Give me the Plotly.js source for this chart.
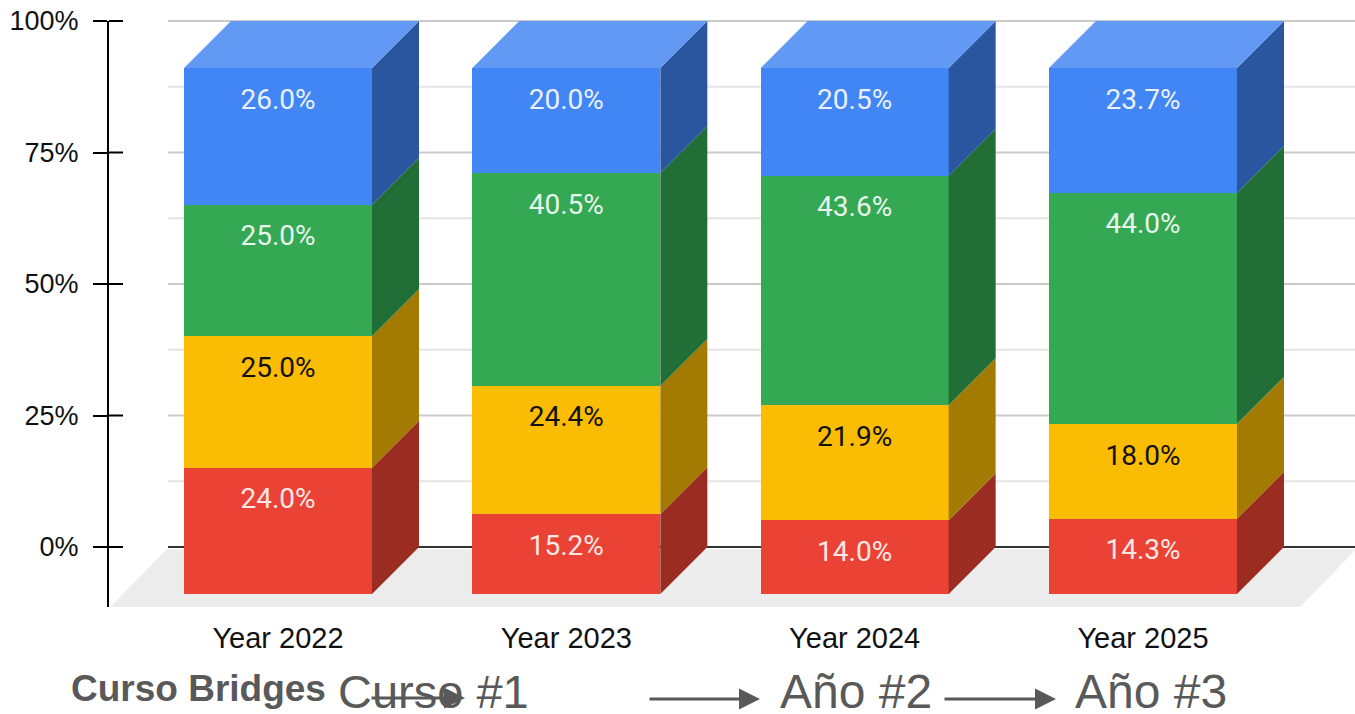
<!DOCTYPE html>
<html>
<head>
<meta charset="utf-8">
<script src="https://cdn.plot.ly/plotly-3.0.1.min.js"></script>
<style>html,body{margin:0;padding:0;background:#fff;overflow:hidden}#chart{width:1355px;height:714px}</style>
</head>
<body>
<div id="chart"></div>
<script>
// ---- data ----
const categories = ['Year 2022', 'Year 2023', 'Year 2024', 'Year 2025'];
const redValues = [24.0, 15.2, 14.0, 14.3];
const yellowValues = [25.0, 24.4, 21.9, 18.0];
const greenValues = [25.0, 40.5, 43.6, 44.0];
const blueValues = [26.0, 20.0, 20.5, 23.7];
const yTicks = [0, 25, 50, 75, 100];
const yMinor = [12.5, 37.5, 62.5, 87.5];
const yTickText = ['0%', '25%', '50%', '75%', '100%'];

// ---- styling ----
const W = 1355, H = 714, mL = 109, mT = 21, mB = 107;
const plotW = W - mL, plotH = H - mT - mB;
const PX_PER_CAT = 288.33, PX_PER_PCT = 5.26, DEPTH_PX = 47;
const depthX = DEPTH_PX / PX_PER_CAT, depthY = DEPTH_PX / PX_PER_PCT;
const barW = 188 / PX_PER_CAT;
const xIdx = px => (px - 278) / PX_PER_CAT;
const xRange = [xIdx(mL), xIdx(W)];
const yBackRange = [-(607 - 547) / PX_PER_PCT, 100];
const yFrontRange = [-(607 - 594) / PX_PER_PCT, 100 + depthY];
const xs = categories.map((_, i) => i);

const series = [
  {name: 'Red', v: redValues, front: '#ea4335', side: '#9b2c22', text: '#fce8e6'},
  {name: 'Yellow', v: yellowValues, front: '#fbbc04', side: '#a47b02', text: '#111111'},
  {name: 'Green', v: greenValues, front: '#34a853', side: '#216f37', text: '#e8f5ec'},
  {name: 'Blue', v: blueValues, front: '#4285f4', side: '#2a569f', text: '#eaf1fe'}
];
const totals = xs.map(i => series.reduce((s, t) => s + t.v[i], 0));
const LABEL_OFFSET = 33.5 / PX_PER_PCT;

const traces = [];
// front faces
series.forEach(s => traces.push({
  type: 'bar', name: s.name, x: xs, y: s.v, width: barW,
  marker: {color: s.front, line: {width: 0}}, xaxis: 'x', yaxis: 'y2', showlegend: false, hoverinfo: 'skip'
}));
// side faces
const running = xs.map(() => 0);
const labelTraces = [];
series.forEach(s => {
  const px = [], py = [], tops = [];
  xs.forEach(i => {
    const lo = running[i], hi = lo + s.v[i] / totals[i] * 100;
    running[i] = hi; tops.push(hi);
    const e = i + barW / 2;
    px.push(e, e + depthX, e + depthX, e, e, null);
    py.push(lo, lo + depthY, hi + depthY, hi, lo, null);
  });
  traces.push({
    type: 'scatter', mode: 'lines', x: px, y: py, fill: 'toself', fillcolor: s.side,
    line: {width: 0, color: s.side}, xaxis: 'x', yaxis: 'y2', showlegend: false, hoverinfo: 'skip'
  });
  labelTraces.push({
    type: 'scatter', mode: 'text', x: xs, y: tops.map(t => t - LABEL_OFFSET),
    text: s.v.map(v => v.toFixed(1) + '%'), textposition: 'middle center',
    textfont: {family: 'Roboto, sans-serif', size: 28, color: s.text},
    xaxis: 'x', yaxis: 'y2', showlegend: false, hoverinfo: 'skip', cliponaxis: false
  });
});
// top face
const topX = [], topY = [];
xs.forEach(i => {
  const a = i - barW / 2, b = i + barW / 2;
  topX.push(a, b, b + depthX, a + depthX, a, null);
  topY.push(100, 100, 100 + depthY, 100 + depthY, 100, null);
});
traces.push({
  type: 'scatter', mode: 'lines', x: topX, y: topY, fill: 'toself', fillcolor: '#6199f5',
  line: {width: 0, color: '#6199f5'}, xaxis: 'x', yaxis: 'y2', showlegend: false, hoverinfo: 'skip'
});
labelTraces.forEach(t => traces.push(t));

// shapes: grid, floor, inner half of ticks
const gridStart = (168 - mL) / plotW;
const shapes = [];
const atTop = y => y === yBackRange[1];
const hline = (y, color, width) => ({
  type: 'line', xref: 'paper', yref: atTop(y) ? 'paper' : 'y', x0: gridStart, x1: 1,
  y0: atTop(y) ? 1 : y, y1: atTop(y) ? 1 : y,
  line: {color, width}, layer: 'below'
});
yMinor.forEach(y => shapes.push(hline(y, '#e4e4e4', 2)));
yTicks.filter(y => y > 0).forEach(y => shapes.push(hline(y, '#cacaca', 2)));
shapes.push(hline(0, '#333333', 2));
const fy0 = yBackRange[0], fy1 = -0.45;
shapes.push({
  type: 'path', xref: 'x', yref: 'y', layer: 'below', line: {width: 0}, fillcolor: '#ececec',
  path: `M ${xIdx(110)} ${fy0} L ${xIdx(1300)} ${fy0} L ${xIdx(1356)} ${fy1} L ${xIdx(167)} ${fy1} Z`
});
yTicks.forEach(y => shapes.push({
  type: 'line', xref: 'paper', yref: atTop(y) ? 'paper' : 'y', x0: 0, x1: 14 / plotW,
  y0: atTop(y) ? 1 : y, y1: atTop(y) ? 1 : y,
  line: {color: '#000000', width: 2}, layer: 'above'
}));

// bottom text and arrows
const ax = px => (px - mL) / plotW;
const ay = py => (H - mB - py) / plotH;
const gray = '#595959';
const bottomText = [
  {t: '<b>Curso Bridges</b>', x: 69, y: 688, size: 37},
  {t: 'Curso #1', x: 336, y: 691, size: 47},
  {t: 'Año #2', x: 778, y: 691, size: 48},
  {t: 'Año #3', x: 1073, y: 691, size: 48}
];
const arrows = [[370, 465, 698], [648, 760, 699], [943, 1056, 699]];
const annotations = bottomText.map(b => ({
  text: b.t, xref: 'paper', yref: 'paper', x: ax(b.x), y: ay(b.y), xanchor: 'left', yanchor: 'middle',
  showarrow: false, font: {family: '"Liberation Sans", Arial, sans-serif', size: b.size, color: gray}
})).concat(arrows.map(a => ({
  text: '', xref: 'paper', yref: 'paper', x: ax(a[1]), y: ay(a[2]),
  axref: 'pixel', ayref: 'pixel', ax: a[0] - a[1], ay: 0,
  showarrow: true, arrowhead: 2, arrowsize: 1.4, arrowwidth: 3, arrowcolor: gray, standoff: 0
})));

const layout = {
  width: W, height: H, margin: {l: mL, r: 0, t: mT, b: mB, pad: 0},
  paper_bgcolor: '#ffffff', plot_bgcolor: 'rgba(0,0,0,0)', showlegend: false, hovermode: false,
  barmode: 'stack', barnorm: 'percent',
  font: {family: '"Liberation Sans", Arial, sans-serif', color: '#000'},
  xaxis: {
    range: xRange, tickmode: 'array', tickvals: xs, ticktext: categories, showgrid: false, zeroline: false,
    showline: false, ticks: '', tickfont: {size: 29, color: '#111'}, ticklabelstandoff: 11, fixedrange: true
  },
  yaxis: {
    range: yBackRange, tickmode: 'array', tickvals: yTicks, ticktext: yTickText, showgrid: false, zeroline: false,
    showline: true, linecolor: '#000', linewidth: 2, ticks: 'outside', ticklen: 14, tickwidth: 2, tickcolor: '#000',
    tickfont: {size: 27, color: '#111'}, ticklabelstandoff: 9, fixedrange: true
  },
  yaxis2: {range: yFrontRange, overlaying: 'y', visible: false, fixedrange: true},
  shapes, annotations
};
Plotly.newPlot('chart', traces, layout, {displayModeBar: false, staticPlot: true});
</script>
</body>
</html>
